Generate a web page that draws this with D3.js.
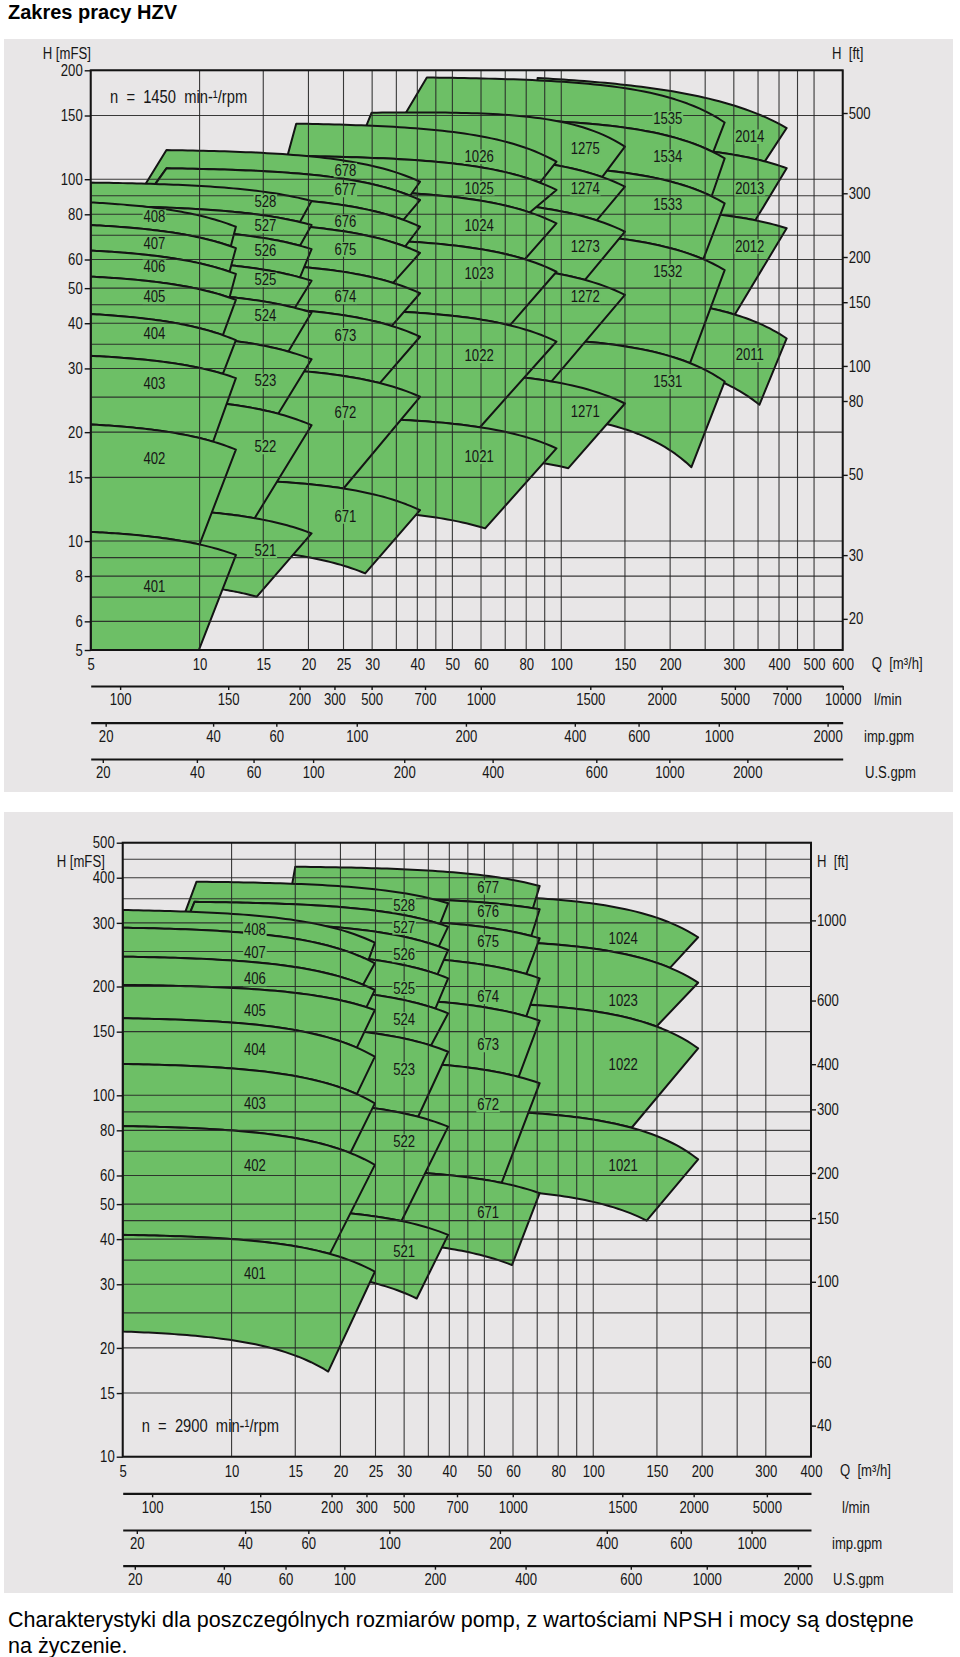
<!DOCTYPE html>
<html lang="pl">
<head>
<meta charset="utf-8">
<title>Zakres pracy HZV</title>
<script src="https://cdn.jsdelivr.net/npm/d3@7/dist/d3.min.js"></script>
<style>
  html,body{margin:0;padding:0;background:#fff;}
  svg{display:block;}
</style>
</head>
<body>
<svg id="chart" width="960" height="1657" xmlns="http://www.w3.org/2000/svg"></svg>
<script>
// ================= DATA =================
// Pump curves per family: [Q1,H1,Q2,H2] (H = A - B*Q^2) or [Q1,H1,Qm,Hm,Q2,H2] (quadratic).
// Curve 0 = lower bound of tile 1, curve k = upper bound of tile k.
// Tile corners: [Q top-left, Q top-right, Q bottom-right, Q bottom-left, (extra lower-left points [Q,H])]

// ---------- Top chart, n = 1450 min-1 ----------
const topFamilies = ["40", "52", "67", "102", "127", "153", "201"];
const topCurves = [
  [[5,4.6,12.6,4.0],[5,10.6,12.6,9.15],[5,21.0,12.6,17.9],[5,32.5,12.6,28.2],[5,42.4,12.6,35.9],[5,53.8,12.6,46.4],[5,63.5,12.6,54.7],[5,74.7,12.6,64.5],[5,86.3,12.6,73.9]],
  [[11.9,7.32,14.4,7.02],[10.9,11.98,20.4,10.5],[12,23.9,20.4,20.9],[12,35.9,20.4,31.8],[12,47.3,20.4,42.8],[12,57.9,20.4,52.4],[12,70.8,20.4,64.1],[5,84.5,20.4,74.7],[5,97.9,20.4,87.1]],
  [[18.35,9.15,28.7,8.14],[16.3,14.6,40.7,12.17],[19.8,29.4,40.7,25.05],[20,43.25,40.7,36.7],[20,57.0,40.7,48.4],[20,73.8,40.7,62.6],[20,87.1,40.7,73.9],[8.1,107.2,40.7,87.6],[8.1,120.4,40.7,98.4]],
  [[40.2,11.8,61.6,10.84],[37,21.6,97,18.04],[36.6,43.0,97,35.6],[40,67.0,97,55.5],[40,91.2,97,75.5],[40,112.8,97,93.4],[18.5,142.4,97,111.8]],
  [[90,16.4,104.6,15.9],[60,29.0,150,24.0],[60,58.0,150,47.9],[60,86.6,150,71.6],[60,115.4,150,95.4],[29.9,152.7,99.4,144.2,150,123.0]],
  [[135,21.0,229,16.0],[120,35.5,283,27.6],[150,68.2,283,56.1],[150,104.2,283,85.8],[99.4,144.2,283,114.2],[42.5,191,283,143.5]],
  [[283,27.3,353,23.8],[260.5,43.9,420,36.3],[277.5,79.7,420,73.2],[263,119.1,420,107.3],[86,190.4,252,167.6,420,138.5]]
];
const topEdges = [
  [[5,12.6,9.4,5],[5,12.6,10.0,5],[5,12.6,10.9,5],[5,12.6,11.6,5],[5,12.6,11.6,5],[5,12.6,12.1,5],[5,12.6,12.1,5],[5,12.6,12.2,5]],
  [[8,20.4,14.4,8],[8,20.4,14.2,8],[8,20.4,16.5,8],[8,20.4,17.6,8],[8,20.4,18.35,8],[8,20.4,18.95,8],[6.5,20.4,18.95,6.5],[5,20.4,18.95,5]],
  [[10,40.7,28.7,10],[10,40.7,25.0,10],[10,40.7,31.5,10],[10,40.7,34.0,10],[10,40.7,34.3,10],[10,40.7,37.0,10],[8.1,40.7,36.6,7.2],[8.1,40.7,38.2,8.1,[[7.42,95],[7.0,95]]]],
  [[19.5,97,61.6,19.5],[19.5,97,59.6,19.5],[19.5,97,72.1,19.5],[19.5,97,79.3,19.5],[19.5,97,81.8,19.5],[18.5,97,87.3,17.5]],
  [[30,150,104.6,30],[30,150,94,30],[30,150,116.3,30],[30,150,125.3,30],[29.9,150,129.7,27]],
  [[45,283,229,45],[45,283,227,45],[45,283,247,45],[45,283,260.5,45],[42.5,283,263,36.5]],
  [[150,420,353,150],[150,420,302,150],[150,420,344,150],[86,420,365.5,86]]
];
const topLabelQ = [7.5, 15.2, 25.3, 59.3, 116.5, 197, 332];
const topLabelH = [
  [7.5,16.9,27.3,37.5,47.3,57.3,66.5,78.8],
  [9.4,18.2,27.7,42.1,52.7,63.7,74.3,86.7],
  [11.7,22.6,37.1,47.3,64.0,76.3,93.4,106],
  [17.1,32.5,55.0,74.7,94.4,115.4],
  [22.8,47.3,65.1,94.4,121.7],
  [27.6,55.5,84.9,115.4,147.3],
  [32.7,65.1,94.4,131.1]
];
const topQTicks = [5,10,15,20,25,30,40,50,60,80,100,150,200,300,400,500,600];
const topHTicks = [5,6,8,10,15,20,30,40,50,60,80,100,150,200];
const topQGrid = [5,10,15,20,25,30,35,40,45,50,60,70,80,90,100,150,200,250,300,350,400,450,500,600];
const topHGrid = [5,6,7,8,9,10,15,20,25,30,35,40,45,50,60,70,80,90,100,150,200];
const topFtTicks = [500,300,200,150,100,80,50,30,20];
const topLpmLabels = ["100","150","200","300","500","700","1000","1500","2000","5000","7000","10000"];
const topLpmAt = [6.03,12.0,18.9,23.6,29.9,42.0,59.9,120.3,189.5,302,420,600];
const topImpLabels = ["20","40","60","100","200","400","600","1000","2000"];
const topImpAt = [5.5,10.9,16.3,27.2,54.5,109,163.6,272.6,545];
const topUsLabels = ["20","40","60","100","200","400","600","1000","2000"];
const topUsAt = [5.4,9.83,14.1,20.6,36.8,64.6,125,199,327];

// ---------- Bottom chart, n = 2900 min-1 ----------
const botFamilies = ["40", "52", "67", "102"];
const botCurves = [
  [[5,22.2,18.5,17.2],[5,41.1,24.9,32.5],[5,82.2,24.9,64.2],[5,122.1,24.9,95.0],[5,163.4,24.9,127.9],[5,202,24.9,172.2],[5,241.9,24.9,195.6],[5,290.9,24.9,231.8],[5,325.6,24.9,264.4]],
  [[24.9,30.2,32.5,27.4],[25,46.2,39.7,41.1],[25,92.0,39.7,81.9],[25,148.3,39.7,132],[25,189.4,39.7,168.6],[25,236.7,39.7,210.7],[25,283.6,39.7,252.4],[7.9,343,39.7,292.8],[8.0,390,39.7,339.9]],
  [[39.7,37.7,59.6,33.9],[40,60.1,71.1,53.6],[40,121,71.1,108],[40,180.3,71.1,160.9],[40,236.1,71.1,210.7],[39.7,299.2,71.1,271.9],[34.9,348.6,71.1,327.1],[15,429,71.1,379.4]],
  [[71.1,53.6,140.5,45],[69,89.2,195,66.5],[69,177.7,195,134.9],[71.1,263.4,195,204.9],[70.5,350.9,195,273.7]]
];
const botEdges = [
  [[5,24.9,18.5,5],[5,24.9,18.7,5],[5,24.9,21.3,5],[5,24.9,22.2,5],[5,24.9,22.2,5],[5,24.9,23.6,5],[5,24.9,23.1,5],[5,24.9,23.9,5]],
  [[10,39.7,32.5,10],[10,39.7,29.5,10],[10,39.7,32.8,10],[10,39.7,35.6,10],[10,39.7,36.6,10],[10,39.7,37.1,10],[7.9,39.7,37.4,7.5],[8.0,39.7,37.7,7.9,[[7.64,316],[7.4,316]]]],
  [[20,71.1,59.6,20],[20,71.1,55.8,20],[20,71.1,62.2,20],[20,71.1,65.3,20],[20,71.1,65.3,20],[20,71.1,67.4,20],[15,71.1,68.1,14.5]],
  [[40,195,140.5,40],[40,195,127.7,40],[40,195,149.6,40],[40,195,163,40]]
];
const botLabelQ = [11.6, 30, 51.2, 121];
const botLabelH = [
  [32.2,63.9,95.0,134.3,171.4,209.8,248,288],
  [36.9,74.4,118,162.3,197.7,244.5,291.6,336],
  [47.3,94.0,137.8,187.4,266.1,322.1,376.4],
  [64.1,121.3,183.5,272]
];
const botQTicks = [5,10,15,20,25,30,40,50,60,80,100,150,200,300,400];
const botHTicks = [10,15,20,30,40,50,60,80,100,150,200,300,400,500];
const botQGrid = [5,10,15,20,25,30,35,40,45,50,60,70,80,90,100,150,200,250,300,400];
const botHGrid = [10,15,20,25,30,35,40,45,50,60,70,80,90,100,150,200,250,300,350,400,450,500];
const botFtTicks = [1000,600,400,300,200,150,100,60,40];
const botLpmLabels = ["100","150","200","300","500","700","1000","1500","2000","5000"];
const botLpmAt = [6.03,12.0,18.9,23.6,29.9,42.0,59.9,120.3,189.5,302];
const botImpLabels = ["20","40","60","100","200","400","600","1000"];
const botImpAt = [5.47,10.9,16.3,27.3,55.2,109,174.6,274];
const botUsLabels = ["20","40","60","100","200","400","600","1000","2000"];
const botUsAt = [5.4,9.52,14.1,20.5,36.5,65,127,206,368];

const titleText = "Zakres pracy HZV";
const footerLines = ["Charakterystyki dla poszczególnych rozmiarów pomp, z wartościami NPSH i mocy są dostępne", "na życzenie."];

// ================= DRAWING =================
const svg = d3.select("#chart");
const defs = svg.append("defs");
const GREEN = "#6dbf66", EDGE = "#141414", GRID = "#262626", PANEL = "#e8e6e7", INK = "#161616";
const BASEF = '"Liberation Sans", Arial, sans-serif';

function fontAvailable(name) {
  const c = document.createElement("canvas").getContext("2d");
  const s = "0123456789 HmFSQhrpmabc";
  c.font = "40px monospace"; const a = c.measureText(s).width;
  c.font = `40px "${name}", monospace`; const b = c.measureText(s).width;
  return Math.abs(a - b) > 0.5;
}
const hasNarrow = fontAvailable("Liberation Sans Narrow");
const NARROWF = hasNarrow ? '"Liberation Sans Narrow", sans-serif' : BASEF;
const SQ = hasNarrow ? 1 : 0.82;

function narrowText(parent, x, y, str, size, anchor) {
  const t = parent.append("text").attr("font-family", NARROWF).attr("font-size", size)
    .attr("fill", INK).attr("text-anchor", anchor || "start")
    .attr("x", x / SQ).attr("y", y).text(str);
  if (SQ !== 1) t.attr("transform", `scale(${SQ},1)`);
  return t;
}
function styleAxis(ax, size) {
  ax.selectAll("text").attr("font-family", NARROWF).attr("font-size", size).attr("fill", INK)
    .each(function () {
      if (SQ !== 1) {
        const t = d3.select(this);
        t.attr("x", (+t.attr("x") || 0) / SQ).attr("transform", `scale(${SQ},1)`);
      }
    });
  ax.selectAll(".tick line").attr("stroke", EDGE).attr("stroke-width", 1.4);
}
function curveFn(c) {
  if (c.length === 4) {
    const [q1, h1, q2, h2] = c;
    const B = (h1 - h2) / (q2 * q2 - q1 * q1), A = h1 + B * q1 * q1;
    return q => A - B * q * q;
  }
  const [x0, y0, x1, y1, x2, y2] = c;
  return q => y0 * (q - x1) * (q - x2) / ((x0 - x1) * (x0 - x2))
            + y1 * (q - x0) * (q - x2) / ((x1 - x0) * (x1 - x2))
            + y2 * (q - x0) * (q - x1) / ((x2 - x0) * (x2 - x1));
}

function drawChart(o) {
  const x = d3.scaleLog().domain(o.qDomain).range(o.xRange);
  const y = d3.scaleLog().domain(o.hDomain).range(o.yRange);
  const yFt = d3.scaleLog().domain(o.hDomain.map(v => v / 0.3048)).range(o.yRange);
  const [xL, xR] = o.xRange, [yB, yT] = o.yRange;
  const g = svg.append("g");
  g.append("rect").attr("x", o.panel[0]).attr("y", o.panel[1]).attr("width", o.panel[2])
    .attr("height", o.panel[3]).attr("fill", PANEL);

  const cid = o.id + "-clip";
  defs.append("clipPath").attr("id", cid).append("rect")
    .attr("x", xL).attr("y", yT).attr("width", xR - xL).attr("height", yB - yT);
  const tiles = g.append("g").attr("clip-path", `url(#${cid})`);
  const line = d3.line();
  const sample = (f, qa, qb) => d3.range(0, 49).map(i => {
    const q = qa * Math.pow(qb / qa, i / 48);
    return [x(q), y(Math.max(f(q), 0.5))];
  });
  for (let fi = o.families.length - 1; fi >= 0; fi--) {
    const cv = o.curves[fi].map(curveFn);
    const ed = o.edges[fi];
    for (let k = ed.length; k >= 1; k--) {
      const e = ed[k - 1];
      let pts = sample(cv[k], e[0], e[1]).concat(sample(cv[k - 1], e[2], e[3]));
      if (e[4]) pts = pts.concat(e[4].map(p => [x(p[0]), y(p[1])]));
      tiles.append("path").attr("d", line(pts) + "Z")
        .attr("fill", GREEN).attr("stroke", EDGE).attr("stroke-width", 2)
        .attr("stroke-linejoin", "round");
    }
  }

  // grid
  const grid = g.append("g").attr("stroke", GRID).attr("stroke-width", 1.1).attr("stroke-opacity", 0.9);
  o.qGrid.forEach(v => grid.append("line").attr("x1", x(v)).attr("x2", x(v)).attr("y1", yT).attr("y2", yB));
  o.hGrid.forEach(v => grid.append("line").attr("x1", xL).attr("x2", xR).attr("y1", y(v)).attr("y2", y(v)));

  // tile labels
  const lab = g.append("g");
  o.families.forEach((fam, fi) => {
    o.labelH[fi].forEach((h, i) => {
      const t = narrowText(lab, x(o.labelQ[fi]), y(h) + 5.5, fam + (i + 1), 16, "middle");
      const bb = t.node().getBBox();
      const r = lab.insert("rect", () => t.node())
        .attr("x", bb.x - 1).attr("y", bb.y + 1.5).attr("width", bb.width + 2).attr("height", bb.height - 3)
        .attr("fill", GREEN);
      if (SQ !== 1) r.attr("transform", `scale(${SQ},1)`);
    });
  });

  // frame
  g.append("rect").attr("x", xL).attr("y", yT).attr("width", xR - xL).attr("height", yB - yT)
    .attr("fill", "none").attr("stroke", EDGE).attr("stroke-width", 2);

  // left axis (m)
  const axL = g.append("g").attr("transform", `translate(${xL},0)`)
    .call(d3.axisLeft(y).tickValues(o.hTicks).tickFormat(d => d).tickSize(6).tickPadding(2).tickSizeOuter(0));
  axL.select(".domain").remove();
  styleAxis(axL, 16);
  // right axis (ft)
  const axR = g.append("g").attr("transform", `translate(${xR},0)`)
    .call(d3.axisRight(yFt).tickValues(o.ftTicks).tickFormat(d => d).tickSize(5).tickPadding(1).tickSizeOuter(0));
  axR.select(".domain").remove();
  styleAxis(axR, 16);
  // Q axis labels
  const axB = g.append("g").attr("transform", `translate(0,${yB})`)
    .call(d3.axisBottom(x).tickValues(o.qTicks).tickFormat(d => d).tickSize(0).tickPadding(9).tickSizeOuter(0));
  axB.select(".domain").remove();
  styleAxis(axB, 16);

  // unit axes
  o.unitAxes.forEach(u => {
    const a = g.append("g").attr("transform", `translate(0,${u.y})`)
      .call(d3.axisBottom(x).tickValues(u.at).tickFormat((d, i) => u.labels[i]).tickSize(4).tickPadding(4).tickSizeOuter(0));
    a.select(".domain").attr("stroke", EDGE).attr("stroke-width", 2.2);
    styleAxis(a, 16);
    narrowText(g, u.nameX, u.y + 19.5, u.name, 16, "start");
  });

  // titles on the chart
  narrowText(g, o.hLabel[0], o.hLabel[1], "H [mFS]", 16, "start");
  narrowText(g, o.ftLabel[0], o.ftLabel[1], "H  [ft]", 16, "start").style("white-space", "pre");
  narrowText(g, o.qLabel[0], o.qLabel[1], "Q  [m³/h]", 16, "start").style("white-space", "pre");
  narrowText(g, o.speed[0], o.speed[1], o.speed[2], 18, "start").style("white-space", "pre");
}

drawChart({
  id: "top", families: topFamilies, curves: topCurves, edges: topEdges,
  labelQ: topLabelQ, labelH: topLabelH,
  qDomain: [5, 600], hDomain: [5, 200], xRange: [90.7, 842.7], yRange: [650, 70.3],
  panel: [4, 39, 949, 753],
  qTicks: topQTicks, hTicks: topHTicks, qGrid: topQGrid, hGrid: topHGrid, ftTicks: topFtTicks,
  unitAxes: [
    { y: 686, labels: topLpmLabels, at: topLpmAt, name: "l/min", nameX: 874 },
    { y: 722.7, labels: topImpLabels, at: topImpAt, name: "imp.gpm", nameX: 864 },
    { y: 759, labels: topUsLabels, at: topUsAt, name: "U.S.gpm", nameX: 865 }
  ],
  hLabel: [42.7, 59], ftLabel: [832, 59], qLabel: [871.7, 669],
  speed: [110, 103, "n  =  1450  min-¹/rpm"]
});

drawChart({
  id: "bot", families: botFamilies, curves: botCurves, edges: botEdges,
  labelQ: botLabelQ, labelH: botLabelH,
  qDomain: [5, 400], hDomain: [10, 500], xRange: [122.7, 811], yRange: [1456.7, 842.7],
  panel: [4, 812, 949, 781],
  qTicks: botQTicks, hTicks: botHTicks, qGrid: botQGrid, hGrid: botHGrid, ftTicks: botFtTicks,
  unitAxes: [
    { y: 1493.3, labels: botLpmLabels, at: botLpmAt, name: "l/min", nameX: 842 },
    { y: 1530, labels: botImpLabels, at: botImpAt, name: "imp.gpm", nameX: 832 },
    { y: 1565.7, labels: botUsLabels, at: botUsAt, name: "U.S.gpm", nameX: 833 }
  ],
  hLabel: [56.7, 867], ftLabel: [817, 867], qLabel: [840, 1476],
  speed: [141.7, 1432, "n  =  2900  min-¹/rpm"]
});

// page title and footer
svg.append("text").attr("x", 8).attr("y", 19).attr("font-family", BASEF).attr("font-weight", "bold")
  .attr("font-size", 20).attr("fill", "#000").text(titleText);
footerLines.forEach((s, i) => {
  svg.append("text").attr("x", 8).attr("y", 1627 + i * 25.5).attr("font-family", BASEF)
    .attr("font-size", 21.5).attr("fill", "#000").text(s);
});
</script>
</body>
</html>
